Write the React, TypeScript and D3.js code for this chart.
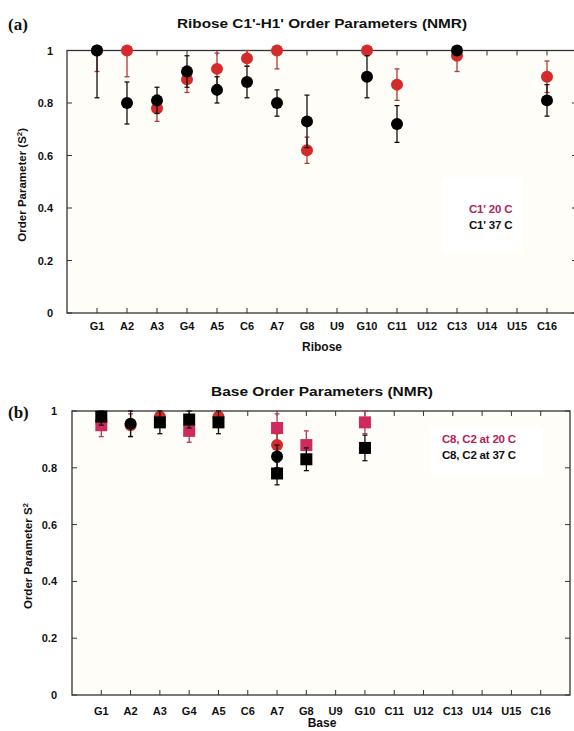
import React from 'react';
import * as d3 from 'd3';

// residues along the x axis (same for both panels)
const residues = ['G1', 'A2', 'A3', 'G4', 'A5', 'C6', 'A7', 'G8', 'U9', 'G10', 'C11', 'U12', 'C13', 'U14', 'U15', 'C16'];
const yTicks = [0, 0.2, 0.4, 0.6, 0.8, 1];

// (a) ribose C1'-H1' order parameters
const ribose20 = [1.0, 1.0, 0.78, 0.89, 0.93, 0.97, 1.0, 0.62, null, 1.0, 0.87, null, 0.98, null, null, 0.9];
const ribose20Err = [0.08, 0.1, 0.05, 0.05, 0.06, 0.03, 0.07, 0.05, null, 0, 0.06, null, 0.06, null, null, 0.06];
const ribose37 = [1.0, 0.8, 0.81, 0.92, 0.85, 0.88, 0.8, 0.73, null, 0.9, 0.72, null, 1.0, null, null, 0.81];
const ribose37Err = [0.18, 0.08, 0.05, 0.06, 0.05, 0.06, 0.05, 0.1, null, 0.08, 0.07, null, 0, null, null, 0.06];

// (b) base C8 (squares) / C2 (circles) order parameters
const base20Sq = [0.95, null, null, 0.93, null, null, 0.94, 0.88, null, 0.96, null, null, null, null, null, null];
const base20SqErr = [0.04, null, null, 0.04, null, null, 0.05, 0.05, null, 0.04, null, null, null, null, null, null];
const base20Ci = [null, 0.95, 0.98, null, 0.98, null, 0.88, null, null, null, null, null, null, null, null, null];
const base20CiErr = [null, 0.04, 0.03, null, 0.03, null, 0.04, null, null, null, null, null, null, null, null, null];
const base37Ci = [null, 0.955, null, null, null, null, 0.84, null, null, null, null, null, null, null, null, null];
const base37CiErr = [null, 0.045, null, null, null, null, 0.04, null, null, null, null, null, null, null, null, null];
const base37Sq = [0.98, null, 0.96, 0.97, 0.96, null, 0.78, 0.83, null, 0.87, null, null, null, null, null, null];
const base37SqErr = [0.03, null, 0.04, 0.03, 0.04, null, 0.04, 0.04, null, 0.045, null, null, null, null, null, null];

const FONT = 'Liberation Sans, Arial, sans-serif';
const RED = '#d42a2a';
const PINK = '#cf2a5c';
const BLACK = '#000';

type Series = { values: (number | null)[]; err: (number | null)[]; color: string; barColor: string; shape: 'circle' | 'square' };

type PanelProps = {
  left: number; right: number; top: number; bottom: number;
  tag: string; tagY: number;
  title: string; titleY: number; titleW: number;
  yLabel: React.ReactNode; yLabelX: number;
  xLabel: string; xLabelY: number; tickLabelY: number; tickRight: number;
  series: Series[];
  legend: { x: number; y: number; w: number; h: number; textX: number; textY: number; lines: { text: string; color: string }[] };
};

const Panel = (p: PanelProps) => {
  const x = d3.scaleLinear().domain([0, residues.length + 1]).range([p.left, p.right]);
  const y = d3.scaleLinear().domain([0, 1]).range([p.bottom, p.top]);
  const tk = 5;

  return (
    <g>
      <rect x={p.left} y={p.top} width={p.right - p.left} height={p.bottom - p.top} fill="#fefdf7" />
      <rect x={p.legend.x} y={p.legend.y} width={p.legend.w} height={p.legend.h} fill="#ffffff" />
      {p.legend.lines.map((l, i) => (
        <text key={i} x={p.legend.textX} y={p.legend.textY + i * 16} fill={l.color}
          fontFamily={FONT} fontWeight="bold" fontSize={11.5} letterSpacing={-0.2}>{l.text}</text>
      ))}

      {/* frame */}
      <rect x={p.left} y={p.top} width={p.right - p.left} height={p.bottom - p.top} fill="none" stroke="#333" strokeWidth={1.3} />

      {/* x ticks */}
      {residues.map((r, i) => (
        <g key={r}>
          <line x1={x(i + 1)} x2={x(i + 1)} y1={p.bottom} y2={p.bottom - tk} stroke="#333" />
          <line x1={x(i + 1)} x2={x(i + 1)} y1={p.top} y2={p.top + tk} stroke="#333" />
          <text x={x(i + 1)} y={p.tickLabelY} textAnchor="middle" fontFamily={FONT} fontWeight="bold" fontSize={11} fill="#111">{r}</text>
        </g>
      ))}

      {/* y ticks */}
      {yTicks.map(t => (
        <g key={t}>
          <line x1={p.left} x2={p.left + tk} y1={y(t)} y2={y(t)} stroke="#333" />
          <line x1={p.right} x2={p.right - tk} y1={y(t)} y2={y(t)} stroke="#333" />
          <text x={p.tickRight} y={y(t) + 4} textAnchor="end" fontFamily={FONT} fontWeight="bold" fontSize={11} fill="#111">{d3.format('~g')(t)}</text>
        </g>
      ))}

      {/* data */}
      {p.series.map((s, si) => (
        <g key={si}>
          {s.values.map((v, i) => {
            if (v == null) return null;
            const e = s.err[i] ?? 0;
            const cx = x(i + 1);
            const hi = y(Math.min(1, v + e));
            const lo = y(Math.max(0, v - e));
            return (
              <g key={i}>
                {e > 0 && (
                  <g stroke={s.barColor} strokeWidth={1.3}>
                    <line x1={cx} x2={cx} y1={hi} y2={lo} />
                    <line x1={cx - 2.5} x2={cx + 2.5} y1={hi} y2={hi} />
                    <line x1={cx - 2.5} x2={cx + 2.5} y1={lo} y2={lo} />
                  </g>
                )}
                {s.shape === 'circle'
                  ? <circle cx={cx} cy={y(v)} r={6} fill={s.color} />
                  : <rect x={cx - 6} y={y(v) - 6} width={12} height={12} fill={s.color} />}
              </g>
            );
          })}
        </g>
      ))}

      {/* labels */}
      <text x={8} y={p.tagY} fontFamily="Liberation Serif, Times New Roman, serif" fontWeight="bold" fontSize={17} fill="#111">{p.tag}</text>
      <text x={322 - p.titleW / 2} y={p.titleY} textLength={p.titleW} lengthAdjust="spacingAndGlyphs"
        fontFamily={FONT} fontWeight="bold" fontSize={13} fill="#111">{p.title}</text>
      <text transform={`translate(${p.yLabelX},${(p.top + p.bottom) / 2 + 3}) rotate(-90)`} textAnchor="middle"
        fontFamily={FONT} fontWeight="bold" fontSize={11.5} fill="#111">{p.yLabel}</text>
      <text x={322} y={p.xLabelY} textAnchor="middle" fontFamily={FONT} fontWeight="bold" fontSize={12} fill="#111">{p.xLabel}</text>
    </g>
  );
};

export default function App() {
  return (
    <svg width={574} height={731} style={{ position: 'absolute', left: 0, top: 0, background: '#fff' }}>
      <Panel
        left={67} right={577} top={50.5} bottom={313}
        tag="(a)" tagY={30}
        title="Ribose C1'-H1' Order Parameters (NMR)" titleY={28} titleW={290}
        yLabel={<>Order Parameter (S<tspan dy={-4} fontSize={8}>2</tspan><tspan dy={4}>)</tspan></>} yLabelX={26}
        xLabel="Ribose" xLabelY={351} tickLabelY={330} tickRight={53}
        series={[
          { values: ribose20, err: ribose20Err, color: RED, barColor: '#b03a3a', shape: 'circle' },
          { values: ribose37, err: ribose37Err, color: BLACK, barColor: '#111', shape: 'circle' },
        ]}
        legend={{ x: 442, y: 178, w: 80, h: 74, textX: 469, textY: 213, lines: [{ text: "C1'  20 C", color: '#b2245a' }, { text: "C1'  37 C", color: '#111' }] }}
      />
      <Panel
        left={72} right={570} top={411} bottom={695}
        tag="(b)" tagY={418}
        title="Base Order Parameters (NMR)" titleY={396} titleW={222}
        yLabel={<>Order Parameter S<tspan dy={-4} fontSize={8}>2</tspan></>} yLabelX={32}
        xLabel="Base" xLabelY={727} tickLabelY={715} tickRight={57}
        series={[
          { values: base20Sq, err: base20SqErr, color: PINK, barColor: '#b03a5a', shape: 'square' },
          { values: base20Ci, err: base20CiErr, color: RED, barColor: '#b03a3a', shape: 'circle' },
          { values: base37Ci, err: base37CiErr, color: BLACK, barColor: '#111', shape: 'circle' },
          { values: base37Sq, err: base37SqErr, color: BLACK, barColor: '#111', shape: 'square' },
        ]}
        legend={{ x: 430, y: 427, w: 112, h: 48, textX: 442, textY: 443, lines: [{ text: 'C8, C2 at 20 C', color: '#b2245a' }, { text: 'C8, C2 at 37 C', color: '#111' }] }}
      />
    </svg>
  );
}
